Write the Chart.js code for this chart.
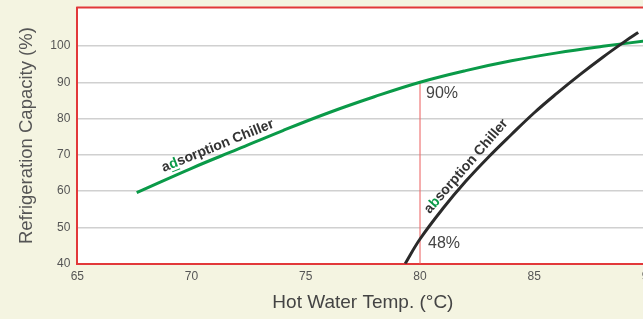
<!DOCTYPE html>
<html>
<head>
<meta charset="utf-8">
<script src="https://cdn.jsdelivr.net/npm/chart.js@4.4.0/dist/chart.umd.min.js"></script>
<style>
  html, body { margin: 0; padding: 0; background: #f4f4e1; overflow: hidden; }
  #wrap { width: 643px; height: 319px; overflow: hidden; }
</style>
</head>
<body>
<div id="wrap"><canvas id="myChart" width="680" height="319"></canvas></div>
<script>
// adsorption chiller curve (green)
const adsTemp = [67.6, 70, 72, 74, 76, 78, 80, 82, 84, 86, 88, 90];
const adsCap = [59.6, 66.3, 71.5, 76.7, 81.6, 86.0, 90, 93.2, 95.9, 98.1, 99.9, 101.5];
// absorption chiller curve (black)
const absTemp = [79.35, 80, 81, 82, 83, 84, 85, 86, 87, 88, 89, 89.55];
const absCap = [40, 46.8, 55.2, 62.7, 69.4, 75.6, 81.6, 87.0, 92.1, 96.9, 101.4, 103.7];
// marker at 80 degC
const markTemp = 80;
const markCaps = [90, 48];
const markLabels = ["90%", "48%"];

const xTicks = [65, 70, 75, 80, 85, 90];
const yTicks = [40, 50, 60, 70, 80, 90, 100];

const FONT = "'Liberation Sans', Arial, sans-serif";
Chart.defaults.font.family = FONT;

const toPoints = (xs, ys) => xs.map((x, i) => ({ x: x, y: ys[i] }));

const areaPlugin = {
  id: "area",
  beforeDraw(chart) {
    const { ctx, chartArea: a } = chart;
    ctx.save();
    ctx.fillStyle = "#ffffff";
    ctx.fillRect(a.left, a.top, a.right - a.left, a.bottom - a.top);
    ctx.restore();
  },
  afterDraw(chart) {
    const { ctx, chartArea: a } = chart;
    ctx.save();
    ctx.strokeStyle = "#e2383a";
    ctx.lineWidth = 2;
    ctx.beginPath();
    ctx.moveTo(a.left - 1, a.top);
    ctx.lineTo(a.right, a.top);
    ctx.stroke();
    ctx.restore();
  },
};

const labelPlugin = {
  id: "labels",
  afterDatasetsDraw(chart) {
    const { ctx } = chart;
    const xs = chart.scales.x, ys = chart.scales.y;
    ctx.save();
    // percent labels next to the 80 degC marker
    ctx.font = "16px " + FONT;
    ctx.fillStyle = "#444";
    ctx.textBaseline = "middle";
    ctx.textAlign = "left";
    const px = xs.getPixelForValue(markTemp);
    ctx.fillText(markLabels[0], px + 6, ys.getPixelForValue(markCaps[0]) + 11.5);
    ctx.fillText(markLabels[1], px + 8, ys.getPixelForValue(markCaps[1]) + 9);

    // curve names written along the lines
    const names = [
      { parts: ["a", "d", "sorption Chiller"], at: [71.35, 69.4], angle: -22, lift: 12, ul: true },
      { parts: ["a", "b", "sorption Chiller"], at: [82.35, 65.0], angle: -49, lift: 10, ul: false },
    ];
    ctx.font = "bold 14px " + FONT;
    names.forEach((n) => {
      const widths = n.parts.map((p) => ctx.measureText(p).width);
      const total = widths.reduce((s, w) => s + w, 0);
      ctx.save();
      ctx.translate(xs.getPixelForValue(n.at[0]), ys.getPixelForValue(n.at[1]));
      ctx.rotate((n.angle * Math.PI) / 180);
      let x = -total / 2;
      const y = -n.lift;
      n.parts.forEach((p, i) => {
        ctx.fillStyle = i === 1 ? "#0a9a48" : "#333";
        ctx.fillText(p, x, y);
        if (i === 1 && n.ul) {
          ctx.strokeStyle = "#0a9a48";
          ctx.lineWidth = 1;
          ctx.beginPath();
          ctx.moveTo(x, y + 7);
          ctx.lineTo(x + widths[i], y + 7);
          ctx.stroke();
        }
        x += widths[i];
      });
      ctx.restore();
    });
    ctx.restore();
  },
};

const config = {
  type: "line",
  data: {
    datasets: [
      {
        data: [{ x: markTemp, y: 40 }, { x: markTemp, y: markCaps[0] }],
        borderColor: "rgba(236, 110, 110, 0.75)",
        borderWidth: 1.5,
        pointRadius: 0,
        order: 3,
      },
      {
        data: toPoints(adsTemp, adsCap),
        borderColor: "#0a9a48",
        borderWidth: 3,
        pointRadius: 0,
        tension: 0.4,
        order: 2,
      },
      {
        data: toPoints(absTemp, absCap),
        borderColor: "#2a2a2a",
        borderWidth: 3,
        pointRadius: 0,
        tension: 0.4,
        order: 1,
      },
    ],
  },
  options: {
    responsive: false,
    animation: false,
    layout: { padding: { top: 7.5, right: 31.5, left: 0, bottom: 0 } },
    plugins: { legend: false, tooltip: { enabled: false } },
    scales: {
      x: {
        type: "linear",
        min: 65,
        max: 90,
        afterBuildTicks: (s) => { s.ticks = xTicks.map((v) => ({ value: v })); },
        afterFit: (s) => { s.height = 55.3; s.paddingLeft = 0; s.paddingRight = 0; },
        grid: { display: false, drawTicks: false },
        border: { display: true, color: "#e2383a", width: 2 },
        ticks: { color: "#555", font: { size: 12 }, padding: 6, maxRotation: 0 },
        title: {
          display: true,
          text: "Hot Water Temp. (°C)",
          color: "#444",
          font: { size: 19 },
          padding: { top: 0, bottom: 4.6 },
        },
      },
      y: {
        type: "linear",
        min: 40,
        max: 110.6,
        afterBuildTicks: (s) => { s.ticks = yTicks.map((v) => ({ value: v })); },
        afterFit: (s) => { s.width = 77.3; s.paddingTop = 0; s.paddingBottom = 0; },
        grid: { color: "#d0d0d0", lineWidth: 1.5, drawTicks: false },
        border: { display: true, color: "#e2383a", width: 2 },
        ticks: { color: "#555", font: { size: 12 }, padding: 7 },
        title: {
          display: true,
          text: "Refrigeration Capacity (%)",
          color: "#555",
          font: { size: 18.5 },
          padding: { top: 15.9, bottom: 0 },
        },
      },
    },
  },
  plugins: [areaPlugin, labelPlugin],
};

const ctx = document.getElementById("myChart").getContext("2d");
new Chart(ctx, config);
</script>
</body>
</html>
